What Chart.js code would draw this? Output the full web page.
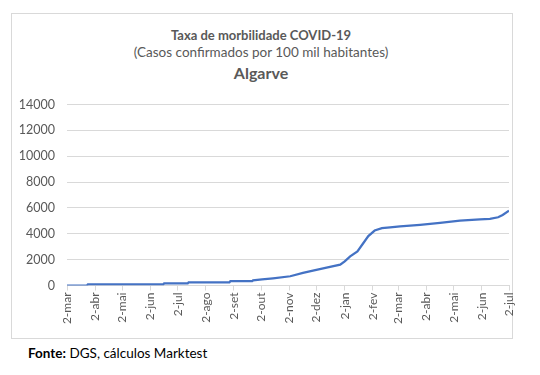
<!DOCTYPE html>
<html>
<head>
<meta charset="utf-8">
<script src="https://cdn.jsdelivr.net/npm/chart.js@4"></script>
<style>
  body { margin: 0; background: #fff; width: 540px; height: 375px; overflow: hidden; font-family: Lato, "Open Sans", sans-serif; }
  #frame { position: absolute; left: 11px; top: 13px; width: 500px; height: 324px; border: 1px solid #d9d9d9; }
  .head { position: absolute; left: 11px; width: 500px; text-align: center; color: #595959; white-space: nowrap; }
  #t1 { top: 27px; font-size: 13px; font-weight: bold; }
  #t2 { top: 44px; font-size: 13.5px; }
  #t3 { top: 63px; font-size: 16px; font-weight: bold; }
  #chartBox { position: absolute; left: 0; top: 85px; width: 540px; height: 255px; }
  #source { position: absolute; left: 28px; top: 345px; font-size: 13.5px; color: #000; }
</style>
</head>
<body>
<div id="frame"></div>
<div class="head" id="t1">Taxa de morbilidade COVID-19</div>
<div class="head" id="t2">(Casos confirmados por 100 mil habitantes)</div>
<div class="head" id="t3">Algarve</div>
<div id="chartBox"><canvas id="morbChart"></canvas></div>
<div id="source"><b>Fonte:</b> DGS, cálculos Marktest</div>
<script>
// dates (approx.) and cumulative cases per 100k
const dates = ["2020-03-02", "2020-03-24", "2020-03-25", "2020-06-16", "2020-06-17", "2020-07-13",
    "2020-07-14", "2020-08-28", "2020-08-29", "2020-09-22", "2020-09-23", "2020-10-03", "2020-10-15",
    "2020-11-03", "2020-11-17", "2020-11-28", "2020-12-13", "2020-12-28", "2021-01-02", "2021-01-08",
    "2021-01-16", "2021-01-22", "2021-01-28", "2021-02-04", "2021-02-12", "2021-02-21", "2021-03-04",
    "2021-03-26", "2021-04-17", "2021-05-09", "2021-05-31", "2021-06-11", "2021-06-20", "2021-06-25",
    "2021-07-02"];
const rates = [0, 0, 80, 80, 160, 160, 250, 250, 330, 330, 400, 480, 560, 715, 970, 1150, 1380, 1610,
    1870, 2250, 2640, 3230, 3820, 4250, 4430, 4500, 4570, 4690, 4840, 5020, 5120, 5150, 5280, 5460, 5790];

const tickDates = ["2020-03-02", "2020-04-02", "2020-05-02", "2020-06-02", "2020-07-02", "2020-08-02",
    "2020-09-02", "2020-10-02", "2020-11-02", "2020-12-02", "2021-01-02", "2021-02-02", "2021-03-02",
    "2021-04-02", "2021-05-02", "2021-06-02", "2021-07-02"];
const tickLabels = ["2-mar", "2-abr", "2-mai", "2-jun", "2-jul", "2-ago", "2-set", "2-out", "2-nov",
    "2-dez", "2-jan", "2-fev", "2-mar", "2-abr", "2-mai", "2-jun", "2-jul"];

const yMax = 14000;
const yStep = 2000;

function dayOf(d) {
    return (Date.parse(d) - Date.parse(dates[0])) / 86400000;
}

const tickDays = tickDates.map(dayOf);
const points = dates.map((d, i) => ({ x: dayOf(d), y: rates[i] }));

const ctx = document.getElementById("morbChart").getContext("2d");
new Chart(ctx, {
    type: "line",
    data: {
        datasets: [{
            data: points,
            borderColor: "#4472C4",
            borderWidth: 2.25,
            pointRadius: 0,
            tension: 0,
            fill: false
        }]
    },
    options: {
        responsive: true,
        maintainAspectRatio: false,
        animation: false,
        layout: { padding: { left: 0, right: 31, top: 18, bottom: 0 } },
        plugins: { legend: { display: false }, tooltip: { enabled: false } },
        scales: {
            x: {
                type: "linear",
                min: 0,
                max: tickDays[tickDays.length - 1],
                afterBuildTicks: scale => { scale.ticks = tickDays.map(v => ({ value: v })); },
                afterFit: scale => { scale.height = 54.5; },
                grid: { drawOnChartArea: false, drawTicks: true, tickLength: 5, color: "#d9d9d9" },
                border: { color: "#d9d9d9" },
                ticks: {
                    autoSkip: false,
                    minRotation: 90,
                    maxRotation: 90,
                    padding: 2,
                    color: "#595959",
                    font: { family: "Lato", size: 12 },
                    callback: v => tickLabels[tickDays.indexOf(v)]
                }
            },
            y: {
                min: 0,
                max: yMax,
                afterFit: scale => { scale.width = 67; },
                grid: { color: "#d9d9d9", drawTicks: false },
                border: { display: false },
                ticks: {
                    stepSize: yStep,
                    padding: 12,
                    color: "#595959",
                    font: { family: "Lato", size: 12.5 },
                    callback: v => String(v)
                }
            }
        }
    }
});
</script>
</body>
</html>
